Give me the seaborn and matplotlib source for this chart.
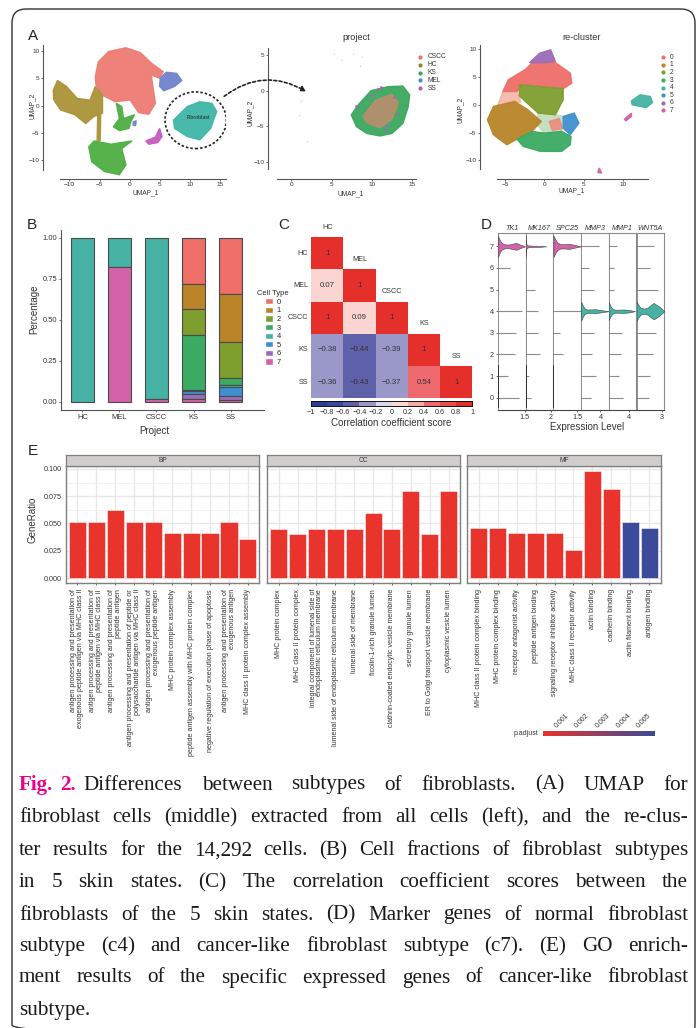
import numpy as np
import seaborn as sns
import matplotlib
matplotlib.use('Agg')
import matplotlib.pyplot as plt
from matplotlib.colors import ListedColormap, BoundaryNorm, LinearSegmentedColormap
from matplotlib.patches import Ellipse, FancyArrowPatch, FancyBboxPatch, Patch

W, H = 696, 1028

# Panel A, outlines of the clusters (UMAP units)
all_red = [(-5.7, 5.3), (-5.2, 8.0), (-3.5, 9.9), (-0.6, 10.6), (1.8, 9.7), (3.7, 7.7), (5.6, 6.2), (5.0, 5.0),
           (3.6, 5.6), (4.3, 0.4), (3.2, -1.6), (1.5, -1.3), (0.1, 1.0), (-2.4, 0.7), (-4.5, 1.9), (-5.6, 3.8)]
all_blue = [(5.1, 5.0), (6.1, 6.1), (7.8, 5.9), (8.7, 4.6), (7.5, 3.5), (5.7, 2.7), (5.0, 3.5)]
all_olive = [(-12.7, 2.8), (-12.0, 4.6), (-10.5, 3.5), (-8.7, 1.3), (-6.6, 1.0), (-5.7, 3.5), (-4.5, 1.9), (-4.5, -1.4),
             (-5.9, -2.0), (-7.3, -3.3), (-9.1, -1.7), (-11.5, -0.8), (-12.6, 1.0)]
all_stem = [(-5.3, -1.5), (-4.8, -1.5), (-4.9, -6.5), (-5.4, -6.5)]
all_green_small = [(-2.7, -3.9), (-1.7, -2.4), (-2.2, 0.4), (-1.3, -0.2), (-1.0, -2.4), (0.8, -1.7), (0.2, -3.0),
                   (-0.1, -4.2), (-1.7, -4.6)]
all_green_big = [(-6.8, -7.6), (-5.9, -6.5), (-3.1, -7.1), (0.4, -6.5), (-1.3, -7.9), (-0.6, -10.9), (-1.7, -12.7),
                 (-4.2, -12.1), (-6.3, -10.3)]
all_teal = [(7.3, -2.7), (9.6, -0.2), (11.7, 0.7), (13.7, 0.4), (14.5, -1.1), (13.5, -4.2), (11.7, -6.3), (9.6, -5.7),
            (7.5, -4.2)]
all_magenta = [(2.7, -6.5), (4.3, -5.8), (5.0, -4.2), (5.4, -5.7), (4.7, -6.8), (3.2, -7.1)]
all_tiny_blue = [(0.6, -3.0), (1.1, -2.8), (1.0, -3.7), (0.6, -3.6)]

project_green = [(7.45, -3.4), (8.3, -2.0), (9.9, 0.0), (12.0, 0.56), (13.85, 0.65), (14.7, -0.6), (14.5, -2.3),
                 (13.85, -4.6), (12.5, -6.0), (11.0, -6.35), (9.4, -6.0), (8.1, -5.05)]
project_red = [(8.9, -3.6), (10.4, -1.4), (12.5, -0.5), (13.3, -1.7), (12.5, -4.0), (11.0, -5.2), (9.4, -4.5)]
project_sparse_x = [5.3, 7.7, 8.8, 6.2, 8.5, 1.26, 1.0, 2.0, -2.0]
project_sparse_y = [5.2, 5.2, 4.7, 4.3, 3.5, -1.5, -3.4, -7.0, -11.6]
project_purple_x = [10.8, 11.2, 11.9, 13.2, 12.8, 11.6, 9.9, 8.0]
project_purple_y = [0.3, 0.5, -4.9, -3.3, -0.9, -5.5, -0.6, -2.2]
project_names = ['CSCC', 'HC', 'KS', 'MEL', 'SS']
project_colors = ['#EE6E66', '#8F8C30', '#3BA860', '#3D8FD0', '#B060C0']

rc_0 = [(-5.3, 2.4), (-4.6, 4.5), (-2.4, 6.4), (-1.6, 7.5), (1.2, 7.8), (3.3, 5.7), (3.5, 3.9), (2.4, 2.9), (-2.7, 3.6),
        (-3.5, 2.4)]
rc_0b = [(-5.3, 2.4), (-3.5, 2.4), (-3.0, 0.5), (-6.0, -0.2)]
rc_0c = [(0.6, -3.0), (1.9, -2.5), (2.3, -4.3), (1.0, -4.6)]
rc_6 = [(-1.9, 7.6), (-0.6, 9.3), (0.8, 9.9), (1.4, 7.8), (0.0, 7.6)]
rc_2 = [(-3.2, 3.6), (2.4, 2.9), (2.4, 0.9), (1.4, -1.8), (-0.8, -1.5), (-3.2, 1.6)]
rc_1 = [(-7.27, -2.7), (-6.5, -0.3), (-3.8, 0.6), (-2.1, -0.9), (-0.4, -3.0), (-1.6, -4.8), (-3.5, -6.2), (-4.8, -7.2),
        (-6.5, -5.4)]
rc_3 = [(-3.5, -6.2), (-1.6, -4.8), (0.0, -5.1), (2.2, -4.8), (3.4, -5.7), (3.3, -7.2), (2.2, -8.4), (-0.5, -8.4),
        (-2.7, -7.5)]
rc_3b = [(-0.8, -1.5), (1.4, -1.8), (2.4, -2.1), (2.2, -4.8), (0.0, -5.1), (-1.0, -3.6)]
rc_5 = [(2.4, -2.1), (3.8, -1.5), (4.4, -3.3), (3.3, -5.4), (2.4, -4.2)]
rc_4 = [(11.1, 0.7), (12.2, 1.8), (13.5, 1.5), (13.8, 0.4), (13.0, -0.5), (11.9, -0.2), (11.2, 0.0)]
rc_7a = [(10.2, -2.6), (11.1, -1.5), (11.1, -2.1), (10.4, -2.9)]
rc_7b = [(6.8, -12.2), (7.0, -11.4), (7.3, -12.3)]

# Panel B
projects = ['HC', 'MEL', 'CSCC', 'KS', 'SS']
cell_types = ['0', '1', '2', '3', '4', '5', '6', '7']
cell_colors = ['#EE6E68', '#BA8429', '#7E9E2E', '#3BAA62', '#45B2A4', '#3F8FD0', '#9B6CB8', '#D362A8']
frac_0 = [0, 0, 0, 0.28, 0.345]
frac_1 = [0, 0, 0, 0.155, 0.29]
frac_2 = [0, 0, 0, 0.155, 0.22]
frac_3 = [0, 0, 0, 0.34, 0.045]
frac_4 = [1, 0.18, 0.985, 0.007, 0.007]
frac_5 = [0, 0, 0, 0.013, 0.058]
frac_6 = [0, 0, 0, 0.035, 0.025]
frac_7 = [0, 0.82, 0.015, 0.015, 0.01]

# Panel C
skin_states = ['HC', 'MEL', 'CSCC', 'KS', 'SS']
corr_hc = [1, 0.07, 1, -0.38, -0.36]
corr_mel = [0.07, 1, 0.09, -0.44, -0.43]
corr_cscc = [1, 0.09, 1, -0.39, -0.37]
corr_ks = [-0.38, -0.44, -0.39, 1, 0.54]
corr_ss = [-0.36, -0.43, -0.37, 0.54, 1]
corr_bins = [-1, -0.8, -0.6, -0.4, -0.2, 0, 0.2, 0.4, 0.6, 0.8, 1]
corr_colors = ['#2F3E93', '#3A4899', '#5F60AA', '#9A97C9', '#D9D7EC', '#FBD5D1', '#F8A9A4', '#EE6A6E', '#EA4F48', '#E42F2A']

# Panel D
genes = ['TK1', 'MK167', 'SPC25', 'MMP3', 'MMP1', 'WNT5A']
gene_xmax = [1.556, 2.21, 1.754, 5.72, 5.53, 3.23]
gene_tick = [1.5, 2, 1.5, 4, 4, 3]
clusters_d = [0, 1, 2, 3, 4, 5, 6, 7]
len_tk1 = [1.16, 0.56, 0.94, 1.03, 1.35, 0, 0.69, 0]
len_mk167 = [0.45, 0.24, 1.12, 0.98, 0.98, 0.72, 0, 0]
len_spc25 = [0, 0, 0.61, 0.40, 1.75, 0, 0, 0]
len_mmp3 = [2.14, 3.1, 2.2, 2.62, 0, 2.62, 1.65, 3.72]
len_mmp1 = [2.86, 2.06, 2.4, 2.73, 0, 1.0, 1.07, 1.73]
len_wnt5a = [1.44, 1.56, 1.95, 2.33, 0, 2.53, 1.56, 2.06]
vio_tk1_x = [0, 0.08, 0.2, 0.35, 0.55, 0.8, 1.03, 1.25, 1.5]
vio_tk1_w = [0.5, 0.32, 0.16, 0.1, 0.08, 0.12, 0.16, 0.08, 0.01]
vio_mk167_x = [0, 0.05, 0.2, 0.6, 1.2, 1.65]
vio_mk167_w = [0.5, 0.1, 0.04, 0.03, 0.02, 0]
vio_spc25_x = [0, 0.1, 0.25, 0.45, 0.7, 1.0, 1.3, 1.75]
vio_spc25_w = [0.5, 0.35, 0.17, 0.1, 0.1, 0.12, 0.07, 0]
vio_mmp3_x = [0, 0.3, 0.7, 1.2, 2, 3, 4.2, 5.72]
vio_mmp3_w = [0.45, 0.28, 0.14, 0.08, 0.08, 0.09, 0.05, 0]
vio_mmp1_x = [0, 0.3, 0.7, 1.2, 2, 3, 4.2, 5.2]
vio_mmp1_w = [0.42, 0.25, 0.12, 0.07, 0.07, 0.08, 0.05, 0]
vio_wnt5a_x = [0, 0.2, 0.5, 0.9, 1.3, 1.7, 2.0, 2.7, 3.23]
vio_wnt5a_w = [0.45, 0.3, 0.15, 0.12, 0.16, 0.3, 0.38, 0.2, 0]

# Panel E
bp_terms = ['antigen processing and presentation of\nexogenous peptide antigen via MHC class II',
            'antigen processing and presentation of\npeptide antigen via MHC class II',
            'antigen processing and presentation of\npeptide antigen',
            'antigen processing and presentation of peptide or\npolysaccharide antigen via MHC class II',
            'antigen processing and presentation of\nexogenous peptide antigen',
            'MHC protein complex assembly',
            'peptide antigen assembly with MHC protein complex',
            'negative regulation of execution phase of apoptosis',
            'antigen processing and presentation of\nexogenous antigen',
            'MHC class II protein complex assembly']
bp_ratio = [0.0515, 0.0515, 0.062, 0.0515, 0.0515, 0.041, 0.041, 0.041, 0.0515, 0.036]
cc_terms = ['MHC protein complex', 'MHC class II protein complex',
            'integral component of lumenal side of\nendoplasmic reticulum membrane',
            'lumenal side of endoplasmic reticulum membrane', 'lumenal side of membrane',
            'ficolin-1-rich granule lumen', 'clathrin-coated endocytic vesicle membrane',
            'secretory granule lumen', 'ER to Golgi transport vesicle membrane', 'cytoplasmic vesicle lumen']
cc_ratio = [0.045, 0.040, 0.045, 0.045, 0.045, 0.060, 0.045, 0.080, 0.040, 0.080]
mf_terms = ['MHC class II protein complex binding', 'MHC protein complex binding', 'receptor antagonist activity',
            'peptide antigen binding', 'signaling receptor inhibitor activity', 'MHC class II receptor activity',
            'actin binding', 'cadherin binding', 'actin filament binding', 'antigen binding']
mf_ratio = [0.046, 0.046, 0.041, 0.041, 0.041, 0.0255, 0.098, 0.082, 0.051, 0.046]
mf_colors = ['#E8342C'] * 8 + ['#3B4A9A'] * 2
padjust_ticks = [0.001, 0.002, 0.003, 0.004, 0.005]

caption_lines = [
    'Differences between subtypes of fibroblasts. (A) UMAP for',
    'fibroblast cells (middle) extracted from all cells (left), and the re-clus-',
    'ter results for the 14,292 cells. (B) Cell fractions of fibroblast subtypes',
    'in 5 skin states. (C) The correlation coefficient scores between the',
    'fibroblasts of the 5 skin states. (D) Marker genes of normal fibroblast',
    'subtype (c4) and cancer-like fibroblast subtype (c7). (E) GO enrich-',
    'ment results of the specific expressed genes of cancer-like fibroblast',
    'subtype.',
]

sns.set_style('white')
plt.rcParams['font.family'] = ['Liberation Sans', 'DejaVu Sans']
plt.rcParams['axes.unicode_minus'] = True

fig = plt.figure(figsize=(W / 100, H / 100), dpi=100)


def px_axes(left, top, right, bottom):
    return fig.add_axes([left / W, 1 - bottom / H, (right - left) / W, (bottom - top) / H])


def umap_axes(box, xlim, ylim, xticks, yticks, left_gap, bottom_gap):
    ax = px_axes(*box)
    ax.set_xlim(*xlim)
    ax.set_ylim(*ylim)
    ax.patch.set_alpha(0)
    sns.despine(ax=ax)
    ax.spines['left'].set_position(('outward', left_gap * 0.72))
    ax.spines['bottom'].set_position(('outward', bottom_gap * 0.72))
    for s in ['left', 'bottom']:
        ax.spines[s].set_color('#555555')
        ax.spines[s].set_linewidth(0.8)
    ax.set_xticks(xticks)
    ax.set_yticks(yticks)
    ax.tick_params(labelsize=4.6, length=1.5, width=0.5, pad=1, colors='#333333', bottom=True, left=True)
    return ax


def blob(ax, pts, color, alpha=0.95):
    xs, ys = zip(*pts)
    ax.fill(xs, ys, color=color, alpha=alpha, lw=1, clip_on=False)


# A left
ax = umap_axes((60, 45, 226, 170), (-11.58, 16.05), (-11.83, 11.1), [-10, -5, 0, 5, 10, 15], [-10, -5, 0, 5, 10], 17, 9)
blob(ax, all_red, '#EE7B74')
blob(ax, all_blue, '#6F83CC')
blob(ax, all_olive, '#AB9338')
blob(ax, all_stem, '#AB9338')
blob(ax, all_green_small, '#4FAE42')
blob(ax, all_green_big, '#4FAE42')
blob(ax, all_teal, '#3FB6A8')
blob(ax, all_magenta, '#C65BC0')
blob(ax, all_tiny_blue, '#6F83CC')
ax.add_patch(Ellipse((11, -2.7), 10.2, 10.4, fill=False, ec='#222222', lw=1.2, ls=(0, (1.5, 1.2))))
ax.text(11.4, -2.2, 'Fibroblast', fontsize=3.8, ha='center', va='center', color='#222222')

# A middle
ax = umap_axes((277, 48, 416.4, 169), (-1.76, 15.53), (-10.98, 5.98), [0, 5, 10, 15], [-10, -5, 0, 5], 9, 10)
ax.scatter(project_sparse_x, project_sparse_y, s=1, color='#D8C8C8', lw=0)
blob(ax, project_green, '#3BA860')
blob(ax, project_red, '#C98A6E', alpha=0.8)
ax.scatter(project_purple_x, project_purple_y, s=4, color='#B060C0', lw=0)

# A right
ax = umap_axes((497, 45, 647.7, 169), (-6.05, 13.18), (-11.57, 10.77), [-5, 0, 5, 10], [-10, -5, 0, 5, 10], 17, 10)
blob(ax, rc_0b, '#F4B5A8', alpha=0.9)
blob(ax, rc_3b, '#BFDDBB', alpha=0.9)
blob(ax, rc_0c, '#EE8A80', alpha=0.9)
blob(ax, rc_0, '#EE6E68')
blob(ax, rc_6, '#9B6CB8')
blob(ax, rc_2, '#7E9E2E')
blob(ax, rc_1, '#BA8429')
blob(ax, rc_3, '#3BAA62')
blob(ax, rc_5, '#3F8FD0')
blob(ax, rc_4, '#45B2A4')
blob(ax, rc_7a, '#D362A8')
blob(ax, rc_7b, '#D362A8')

# B stacked bars
ax = px_axes(61.3, 230, 264.3, 410)
ax.patch.set_alpha(0)
bottom = np.ones(5)
for frac, col in zip([frac_0, frac_1, frac_2, frac_3, frac_4, frac_5, frac_6, frac_7], cell_colors):
    frac = np.array(frac, dtype=float)
    bottom = bottom - frac
    sns.barplot(x=projects, y=frac, bottom=bottom, color=col, saturation=1, width=0.61, edgecolor='#4a4a4a', linewidth=0.8,
                ax=ax, order=projects)
for p in ax.patches:
    if p.get_height() == 0:
        p.set_visible(False)
ax.set_xlim(-0.566, 4.906)
ax.set_ylim(-0.05, 1.047)
sns.despine(ax=ax)
for s in ['left', 'bottom']:
    ax.spines[s].set_color('#555555')
    ax.spines[s].set_linewidth(0.8)
ax.set_yticks([0, 0.25, 0.5, 0.75, 1])
ax.set_yticklabels(['0.00', '0.25', '0.50', '0.75', '1.00'])
ax.tick_params(labelsize=5.4, length=1.5, width=0.5, pad=1.5, colors='#333333', bottom=True, left=True)
handles = [Patch(facecolor=c, label=t) for c, t in zip(cell_colors, cell_types)]
leg = ax.legend(handles=handles, title='Cell Type', loc='upper left', bbox_to_anchor=(252 / W, 1 - 285 / H),
                bbox_transform=fig.transFigure, frameon=False, fontsize=5.4, title_fontsize=5.4, handlelength=1.0,
                handleheight=0.9, labelspacing=0.12, handletextpad=0.5, borderpad=0.2)

# C heatmap
corr = np.array([corr_hc, corr_mel, corr_cscc, corr_ks, corr_ss])
corr_text = np.array([[('1' if v == 1 else f'{v:.2f}'.replace('-', '\u2212')) for v in row] for row in corr])
upper = np.triu(np.ones_like(corr, dtype=bool), k=1)
ax = px_axes(311, 237, 472.3, 398.3)
cax = px_axes(311, 401, 472.3, 406)
sns.heatmap(corr, mask=upper, cmap=ListedColormap(corr_colors), norm=BoundaryNorm(corr_bins, len(corr_colors)),
            annot=corr_text, fmt='', annot_kws={'fontsize': 5.6, 'color': '#333333'}, square=False,
            xticklabels=False, yticklabels=skin_states, ax=ax, cbar_ax=cax,
            cbar_kws={'orientation': 'horizontal', 'ticks': corr_bins, 'spacing': 'proportional'})
ax.tick_params(axis='y', labelsize=5.2, length=0, pad=2, labelcolor='#333333', rotation=0)
for i, name in enumerate(skin_states):
    ax.text(i + 0.5, i - 0.2, name, ha='center', va='bottom', fontsize=5.2, color='#333333')
cax.set_xticklabels([('0' if b == 0 else f'{b:g}'.replace('-', '\u2212')) for b in corr_bins])
cax.tick_params(labelsize=5.2, length=0, pad=2, labelcolor='#333333')
for s in cax.spines.values():
    s.set_visible(True)
    s.set_color('#111111')
    s.set_linewidth(0.6)
cax.set_xlabel('Correlation coefficient score', fontsize=7, labelpad=1.5, color='#333333')

# D stacked violin
lengths = [len_tk1, len_mk167, len_spc25, len_mmp3, len_mmp1, len_wnt5a]
vio_x = [vio_tk1_x, vio_mk167_x, vio_spc25_x, vio_mmp3_x, vio_mmp1_x, vio_wnt5a_x]
vio_w = [vio_tk1_w, vio_mk167_w, vio_spc25_w, vio_mmp3_w, vio_mmp1_w, vio_wnt5a_w]
vio_y = [7, 7, 7, 4, 4, 4]
vio_col = ['#D362A8', '#D362A8', '#D362A8', '#45B2A4', '#45B2A4', '#45B2A4']
d_left, d_step = 498, 27.7
for i, gene in enumerate(genes):
    ax = px_axes(d_left + i * d_step, 232.7, d_left + (i + 1) * d_step, 410)
    ax.set_xlim(0, gene_xmax[i])
    ax.set_ylim(-0.57, 7.63)
    ax.hlines(clusters_d, 0, lengths[i], color='#8c8c8c', lw=0.8)
    xv = np.array(vio_x[i])
    wv = np.array(vio_w[i])
    ax.fill_between(xv, vio_y[i] - wv, vio_y[i] + wv, color=vio_col[i], ec='#444444', lw=0.4, zorder=3)
    ax.axvline(0, color='#6e6e6e', lw=1.1)
    if i < 3:
        ax.vlines(0, -0.5, 1.5, color='#222222', lw=1.2)
    ax.set_xticks([gene_tick[i]])
    ax.set_xticklabels([f'{gene_tick[i]:g}'])
    ax.set_yticks(clusters_d if i == 0 else [])
    ax.tick_params(labelsize=5.2, length=1.5, width=0.5, pad=1.5, colors='#333333', bottom=True, left=True)
    for s in ax.spines.values():
        s.set_color('#8a8a8a')
        s.set_linewidth(0.8)
    ax.spines['left'].set_visible(False)
    ax.spines['bottom'].set_color('#444444')
    ax.set_title(gene, fontsize=5.2, style='italic', pad=2, color='#333333')

# E GO bars
e_boxes = [(66, 259.3), (267.3, 460), (467.3, 660.7)]
e_names = ['BP', 'CC', 'MF']
e_terms = [bp_terms, cc_terms, mf_terms]
e_vals = [bp_ratio, cc_ratio, mf_ratio]
e_cols = [['#E8342C'] * 10, ['#E8342C'] * 10, mf_colors]
for i, (l, r) in enumerate(e_boxes):
    ax = px_axes(l, 465.7, r, 582.7)
    sns.barplot(x=e_terms[i], y=e_vals[i], hue=e_terms[i], palette=e_cols[i], saturation=1, legend=False, width=0.9,
                edgecolor='#F5F5F5', linewidth=0.4, ax=ax)
    ax.set_xlim(-0.6, 9.6)
    ax.set_ylim(-0.0043, 0.103)
    ax.set_axisbelow(True)
    ax.set_yticks([0, 0.025, 0.05, 0.075, 0.1])
    ax.set_yticks([0.0125, 0.0375, 0.0625, 0.0875], minor=True)
    ax.grid(True, which='major', color='#EAE6E6', lw=0.9)
    ax.grid(True, which='minor', axis='y', color='#F0EEEE', lw=0.5)
    ax.set_xticks(range(10))
    ax.set_xticklabels(e_terms[i], rotation=90, ha='center', va='top', ma='right', fontsize=5.1, linespacing=0.95,
                       color='#333333')
    if i == 0:
        ax.set_yticklabels(['0.000', '0.025', '0.050', '0.075', '0.100'])
    else:
        ax.tick_params(axis='y', which='both', left=False, labelleft=False)
    ax.tick_params(axis='y', labelsize=5.2, labelcolor='#333333', length=1.5, width=0.5, pad=1.5)
    ax.tick_params(axis='y', which='minor', length=0)
    ax.tick_params(axis='x', length=1.5, width=0.5, pad=3, bottom=True)
    for s in ax.spines.values():
        s.set_visible(True)
        s.set_color('#7f7f7f')
        s.set_linewidth(1)
    strip = px_axes(l, 455, r, 465.7)
    strip.set_facecolor('#D2CDCD')
    strip.set_xticks([])
    strip.set_yticks([])
    for s in strip.spines.values():
        s.set_visible(True)
        s.set_color('#7f7f7f')
        s.set_linewidth(0.9)
    strip.text(0.5, 0.45, e_names[i], transform=strip.transAxes, ha='center', va='center', fontsize=4.8, color='#333333')

# p.adjust colour bar
ax = px_axes(542.7, 731, 654.3, 735.7)
grad = LinearSegmentedColormap.from_list('padj', ['#E8342C', '#3B4A9A'])
ax.imshow(np.linspace(0, 1, 200)[None, :], cmap=grad, aspect='auto', extent=(0.00026, 0.00566, 0, 1))
ax.set_yticks([])
ax.set_xticks(padjust_ticks)
ax.xaxis.tick_top()
ax.set_xticklabels([f'{t:.3f}' for t in padjust_ticks], rotation=45, ha='left', rotation_mode='anchor', fontsize=5,
                   color='#333333')
ax.tick_params(axis='x', length=0, pad=1.5)
ax.grid(False)
for s in ax.spines.values():
    s.set_visible(False)

# text, frame, arrow and caption on a full page overlay in pixels
page = fig.add_axes([0, 0, 1, 1], zorder=20)
page.set_xlim(0, W)
page.set_ylim(H, 0)
page.axis('off')
page.add_patch(FancyBboxPatch((12, 9), 683, 1030, boxstyle='round,pad=0,rounding_size=14', fc='none', ec='#333333',
                              lw=1.0, clip_on=False))
page.add_patch(FancyArrowPatch((222, 98), (308.5, 93), connectionstyle='arc3,rad=-0.35', arrowstyle='-|>', mutation_scale=7,
                               lw=1.2, ls=(0, (1.8, 1.4)), color='#222222'))

for letter, x, y in [('A', 33, 36), ('B', 32, 225), ('C', 284, 225), ('D', 486, 225), ('E', 33, 451)]:
    page.text(x, y, letter, fontsize=11, ha='center', va='center', color='#222222')
for title, x, y in [('project', 356, 37), ('re-cluster', 581.7, 37)]:
    page.text(x, y, title, fontsize=6.6, ha='center', va='center', color='#333333')
for x, y in [(146, 193), (351, 194), (572, 191)]:
    page.text(x, y, 'UMAP_1', fontsize=4.8, ha='center', va='center', color='#333333')
for x, y in [(32, 106), (250.5, 113), (460, 110)]:
    page.text(x, y, 'UMAP_2', fontsize=4.8, ha='center', va='center', rotation=90, color='#333333')
for i, (name, col) in enumerate(zip(project_names, project_colors)):
    y = 56.7 + i * 7.9
    page.scatter([420], [y], s=9, color=col, lw=0)
    page.text(428, y, name, fontsize=4.8, va='center', color='#333333')
for i, (name, col) in enumerate(zip(cell_types, cell_colors)):
    y = 57.3 + i * 7.57
    page.scatter([663], [y], s=9, color=col, lw=0)
    page.text(670, y, name, fontsize=4.8, va='center', color='#333333')
page.text(34, 309, 'Percentage', fontsize=7, rotation=90, ha='center', va='center', color='#333333')
page.text(154, 431, 'Project', fontsize=7, ha='center', va='center', color='#333333')
page.text(587, 427, 'Expression Level', fontsize=7, ha='center', va='center', color='#333333')
page.text(33, 520, 'GeneRatio', fontsize=7, rotation=90, ha='center', va='center', color='#333333')
page.text(526, 733.5, 'p.adjust', fontsize=5, ha='center', va='center', color='#333333')

# justified caption
renderer = fig.canvas.get_renderer()
cap_left, cap_right = 19, 688
cap_y = [785, 818, 850.7, 882.7, 915, 946.7, 978, 1010.7]
cap_size = 15.2
cap_font = ['Liberation Serif', 'DejaVu Serif']


def word_width(word, **kw):
    t = page.text(0, 0, word, fontsize=cap_size, family=cap_font, **kw)
    w = t.get_window_extent(renderer).width
    t.remove()
    return w


for n, line in enumerate(caption_lines):
    words = line.split(' ')
    x = cap_left
    if n == 0:
        page.text(x, cap_y[n], 'Fig.', fontsize=cap_size, family=cap_font, weight='bold', color='#EC008C', va='center')
        page.text(x + word_width('Fig.', weight='bold') + 7, cap_y[n], '2.', fontsize=cap_size, family=cap_font,
                  weight='bold', color='#EC008C', va='center')
        x = x + word_width('Fig.', weight='bold') + 7 + word_width('2.', weight='bold') + 8
    widths = [word_width(w) for w in words]
    if n == len(caption_lines) - 1:
        gap = 5
    else:
        gap = (cap_right - x - sum(widths)) / (len(words) - 1)
    for w, ww in zip(words, widths):
        page.text(x, cap_y[n], w, fontsize=cap_size, family=cap_font, color='#1a1a1a', va='center')
        x += ww + gap

fig.savefig('out.png', dpi=100)
